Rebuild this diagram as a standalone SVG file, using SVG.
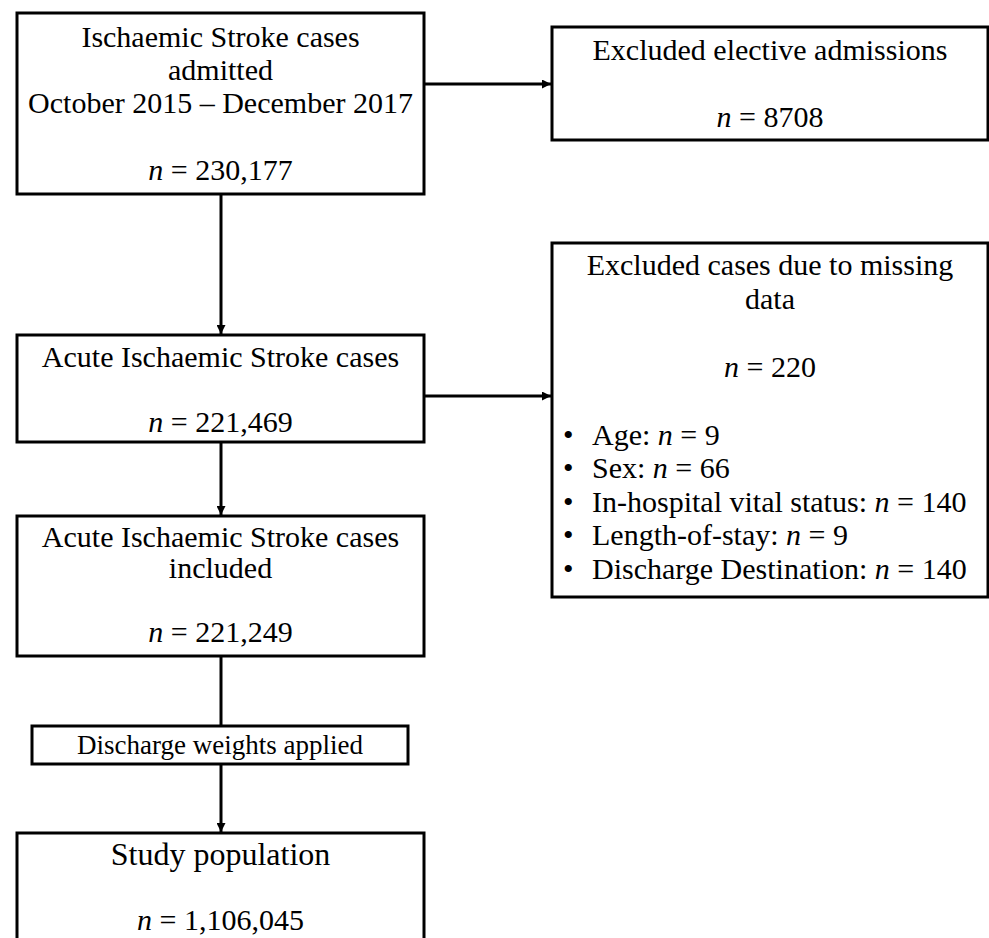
<svg xmlns="http://www.w3.org/2000/svg" width="989" height="938" viewBox="0 0 989 938">
<style>
.box{fill:#fff;stroke:#000;stroke-width:3}
.t{font-family:"Liberation Serif","Times New Roman",serif;font-size:30px;fill:#000;text-anchor:middle}
.s{font-family:"Liberation Serif","Times New Roman",serif;font-size:27px;fill:#000;text-anchor:middle}
.l{font-family:"Liberation Serif","Times New Roman",serif;font-size:30px;fill:#000}
.i{font-style:italic}
.c{stroke:#000;stroke-width:3;fill:none}
</style>
<defs>
<marker id="ah" markerUnits="userSpaceOnUse" markerWidth="9" markerHeight="9" refX="9" refY="4.5" orient="auto">
<path d="M0,0 L9,4.5 L0,9 z" fill="#000"/>
</marker>
</defs>
<rect width="989" height="938" fill="#fff"/>
<g id="connectors">
<line class="c" x1="424" y1="84" x2="551" y2="84" marker-end="url(#ah)"/>
<line class="c" x1="221" y1="194" x2="221" y2="334" marker-end="url(#ah)"/>
<line class="c" x1="424" y1="396" x2="551" y2="396" marker-end="url(#ah)"/>
<line class="c" x1="221" y1="442" x2="221" y2="515" marker-end="url(#ah)"/>
<line class="c" x1="221" y1="656" x2="221" y2="726"/>
<line class="c" x1="221" y1="764" x2="221" y2="832" marker-end="url(#ah)"/>
</g>
<g id="n1">
<rect class="box" x="17" y="13" width="407" height="181"/>
<text class="t" x="220.5" y="47">Ischaemic Stroke cases</text>
<text class="t" x="220.5" y="80">admitted</text>
<text class="t" x="220.5" y="113">October 2015 – December 2017</text>
<text class="t" x="220.5" y="180"><tspan class="i">n</tspan> = 230,177</text>
</g>
<g id="n2">
<rect class="box" x="552" y="27" width="436" height="113"/>
<text class="t" x="770" y="60">Excluded elective admissions</text>
<text class="t" x="770" y="127"><tspan class="i">n</tspan> = 8708</text>
</g>
<g id="n3">
<rect class="box" x="17" y="335" width="407" height="107"/>
<text class="t" x="220.5" y="367">Acute Ischaemic Stroke cases</text>
<text class="t" x="220.5" y="432"><tspan class="i">n</tspan> = 221,469</text>
</g>
<g id="n4">
<rect class="box" x="552" y="243" width="436" height="354"/>
<text class="t" x="770" y="275">Excluded cases due to missing</text>
<text class="t" x="770" y="309">data</text>
<text class="t" x="770" y="377"><tspan class="i">n</tspan> = 220</text>
<text class="l" x="563" y="445">•</text>
<text class="l" x="592" y="445">Age: <tspan class="i">n</tspan> = 9</text>
<text class="l" x="563" y="478">•</text>
<text class="l" x="592" y="478">Sex: <tspan class="i">n</tspan> = 66</text>
<text class="l" x="563" y="512">•</text>
<text class="l" x="592" y="512">In-hospital vital status: <tspan class="i">n</tspan> = 140</text>
<text class="l" x="563" y="545">•</text>
<text class="l" x="592" y="545">Length-of-stay: <tspan class="i">n</tspan> = 9</text>
<text class="l" x="563" y="579">•</text>
<text class="l" x="592" y="579">Discharge Destination: <tspan class="i">n</tspan> = 140</text>
</g>
<g id="n5">
<rect class="box" x="17" y="516" width="407" height="140"/>
<text class="t" x="220.5" y="547">Acute Ischaemic Stroke cases</text>
<text class="t" x="220.5" y="578">included</text>
<text class="t" x="220.5" y="642"><tspan class="i">n</tspan> = 221,249</text>
</g>
<g id="n6">
<rect class="box" x="32" y="726" width="376" height="38"/>
<text class="s" x="220" y="754">Discharge weights applied</text>
</g>
<g id="n7">
<rect class="box" x="17" y="833" width="407" height="120"/>
<text class="t" x="220.5" y="865" style="font-size:32px">Study population</text>
<text class="t" x="220.5" y="930"><tspan class="i">n</tspan> = 1,106,045</text>
</g>
</svg>
